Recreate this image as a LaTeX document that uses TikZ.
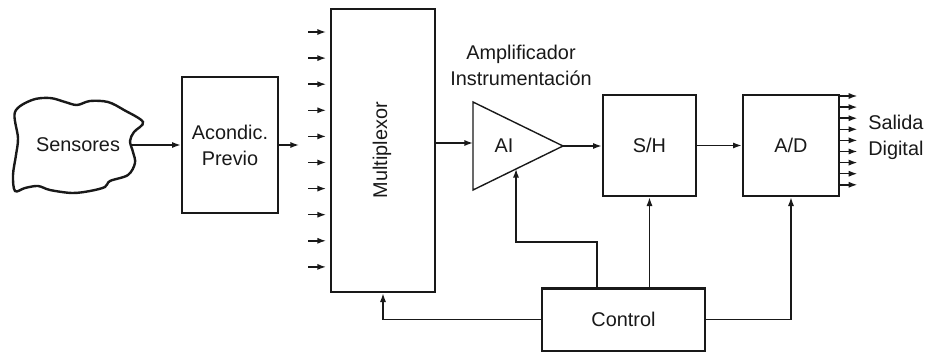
\documentclass[tikz,border=0pt]{standalone}
\usepackage{fontspec}
\setmainfont{Liberation Sans}
\usetikzlibrary{arrows.meta,calc}
\newcommand\lbl{\fontsize{14.9}{19.5}\selectfont}
\begin{document}
\begin{tikzpicture}[x=0.75pt,y=-0.75pt,
  box/.style={draw=black!90,line width=2pt,inner sep=0pt,font=\lbl,align=center,text=black!90},
  txt/.style={inner sep=0pt,font=\lbl,align=center,text=black!90},
  arr/.style={draw=black!90,line width=1.05pt,-{Latex[length=6.5pt,width=4.6pt]}},
  thin/.style={draw=black!90,line width=1.05pt}
]
\useasboundingbox (0,0) rectangle (925,353);

% cloud
\draw[line width=1.8pt,draw=black!90] plot[smooth cycle,tension=0.55] coordinates {
(15,112) (32,100) (50,98) (65,102) (77,105) (90,101) (108,102)
(124,110) (143,122) (134,132) (130,141) (133,152) (135,163)
(128,175) (110,181) (105,187) (90,191) (72,193) (50,190) (38,186)
(25,188) (15,191) (13,175) (16,155) (18,138)};
\node[txt] (sens) at (78,145) {Sensores};
\coordinate (sensR) at (131,145);

% boxes
\node[box,minimum width=72pt,minimum height=102pt] (acond) at (230,145) {Acondic.\\Previo};
\node[box,minimum width=78pt,minimum height=212.25pt] (mux) at (383,150.5) {};
\node[txt,rotate=90] (muxt) at (382,150) {Multiplexor};
\node[box,minimum width=69.75pt,minimum height=75.75pt] (sh) at (649.5,145.5) {S/H};
\node[box,minimum width=72pt,minimum height=75.75pt] (ad) at (791,145.5) {A/D};
\node[box,minimum width=122.25pt,minimum height=47pt] (ctrl) at (623.5,319.5) {Control};

% amplifier
\coordinate (tA) at (473,102);
\coordinate (tB) at (473,190);
\coordinate (tC) at (563,146);
\draw[thin,line join=miter] (tA) -- (tC) -- (tB) -- cycle;
\node[txt] (ai) at (504,146) {AI};
\node[txt] (amp) at (521,65) {Amplificador\\Instrumentación};
\coordinate (ailin) at (473,143);
\coordinate (aibot) at ($(tB)!0.478!(tC)$);

% salida
\node[txt,anchor=west,align=left] (sal) at (868,137) {Salida\\Digital};

% connectors
\draw[arr] (sensR) -- (acond.west);
\coordinate (acout) at (299,145);
\draw[arr] (acond.east) -- (acout);
\foreach \i in {0,...,9}{
  \coordinate (min\i) at (308,{32+26.1*\i});
  \draw[arr] (min\i) -- ++(18,0);
}
\draw[arr] (mux.east |- ailin) -- (ailin);
\draw[arr] (tC) -- (sh.west |- tC);
\draw[arr] (sh.east) -- (ad.west);
\foreach \i in {0,...,8}{
  \coordinate (dout\i) at (ad.east |- 0,{96+11.1*\i});
  \draw[arr] (dout\i) -- ++(17,0);
}
\draw[arr] (ctrl.west) -| (mux.south);
\draw[arr] ([xshift=-19.9pt]ctrl.north) |- (aibot |- 0,242) -- (aibot);
\draw[arr] (ctrl.north -| sh.south) -- (sh.south);
\draw[arr] (ctrl.east) -| (ad.south);
\end{tikzpicture}
\end{document}
